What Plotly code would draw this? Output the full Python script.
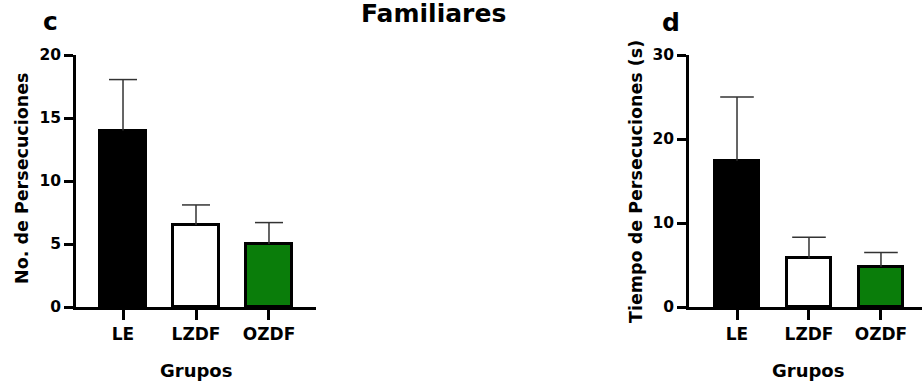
import plotly.graph_objects as go

# Group labels shared by both panels
grupos = ["LE", "LZDF", "OZDF"]

# Panel c: number of chases (mean and upper error)
persecuciones_media = [14.0, 6.5, 5.0]
persecuciones_error = [4.05, 1.6, 1.7]

# Panel d: chase time in seconds (mean and upper error)
tiempo_media = [17.4, 5.8, 4.8]
tiempo_error = [7.6, 2.5, 1.7]

bar_colors = ["#000000", "#ffffff", "#0a7d0a"]

W, H = 922, 382
FONT = "DejaVu Sans"
ERR_COLOR = "#333333"


def px_x(p):
    return p / W


def px_y(p):
    return 1 - p / H


def add_panel(fig, medias, errores, xa, ya, cap):
    fig.add_trace(go.Bar(
        x=grupos, y=medias, width=0.62,
        marker=dict(color=bar_colors, line=dict(color="#000000", width=3)),
        xaxis=xa, yaxis=ya, showlegend=False, hoverinfo="skip",
    ))
    # upward-only error bars: stem from the bar top plus a horizontal cap
    tops = [m + e for m, e in zip(medias, errores)]
    fig.add_trace(go.Scatter(
        x=grupos, y=tops, mode="markers",
        marker=dict(symbol="line-ew", size=cap,
                    line=dict(color=ERR_COLOR, width=1.5)),
        error_y=dict(type="data", symmetric=False, array=[0] * len(errores),
                     arrayminus=errores, color=ERR_COLOR, thickness=1.5,
                     width=0),
        xaxis=xa, yaxis=ya, showlegend=False, hoverinfo="skip",
        cliponaxis=False,
    ))


fig = go.Figure()
add_panel(fig, persecuciones_media, persecuciones_error, "x", "y", 20)
add_panel(fig, tiempo_media, tiempo_error, "x2", "y2", 24)

tick_font_x = dict(family=FONT, size=17, color="#000000", weight="bold")
tick_font_y = dict(family=FONT, size=15.5, color="#000000", weight="bold")

common_x = dict(
    type="category", showgrid=False, zeroline=False, showline=True,
    linecolor="#000000", linewidth=2.5, ticks="outside", ticklen=10,
    tickwidth=2.5, tickcolor="#000000", tickfont=tick_font_x, fixedrange=True,
    automargin=False,
)
common_y = dict(
    showgrid=False, zeroline=False, showline=True, linecolor="#000000",
    linewidth=2.5, ticks="outside", ticklen=9, tickwidth=2.5,
    tickcolor="#000000", tickfont=tick_font_y, fixedrange=True,
    automargin=False,
)

y_dom = [px_y(307), px_y(55)]

fig.update_layout(
    width=W, height=H,
    margin=dict(l=0, r=0, t=0, b=0, autoexpand=False),
    paper_bgcolor="#ffffff", plot_bgcolor="#ffffff",
    font=dict(family=FONT, color="#000000"),
    xaxis=dict(common_x, domain=[px_x(76), px_x(316)], range=[-0.644, 2.644],
               anchor="y"),
    yaxis=dict(common_y, domain=y_dom, range=[0, 20], tickvals=[0, 5, 10, 15, 20],
               anchor="x"),
    xaxis2=dict(common_x, domain=[px_x(689), 1.0], range=[-0.667, 2.57],
                anchor="y2"),
    yaxis2=dict(common_y, domain=y_dom, range=[0, 30], tickvals=[0, 10, 20, 30],
                anchor="x2"),
    bargap=0,
)

bold = lambda s: dict(family=FONT, size=s, color="#000000", weight="bold")

annotations = [
    # figure title
    dict(text="Familiares", x=px_x(433), y=px_y(13), font=bold(25)),
    # panel letters
    dict(text="c", x=px_x(50), y=px_y(21), font=bold(25)),
    dict(text="d", x=px_x(671), y=px_y(22), font=bold(25)),
    # axis titles
    dict(text="No. de Persecuciones", x=px_x(22), y=px_y(179), textangle=-90,
         font=bold(17.5)),
    dict(text="Tiempo de Persecuciones (s)", x=px_x(636), y=px_y(182),
         textangle=-90, font=bold(17.5)),
    dict(text="Grupos", x=px_x(196), y=px_y(370), font=bold(18)),
    dict(text="Grupos", x=px_x(808), y=px_y(370), font=bold(18)),
]
for a in annotations:
    a.update(xref="paper", yref="paper", xanchor="center", yanchor="middle",
             showarrow=False)
fig.update_layout(annotations=annotations)

fig.write_html("out.html")
